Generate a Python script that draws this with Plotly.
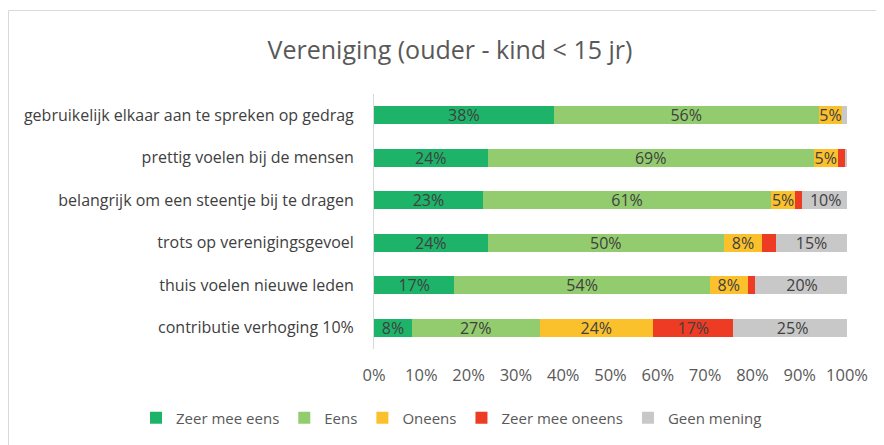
import plotly.graph_objects as go

categories = [
    "gebruikelijk elkaar aan te spreken op gedrag",
    "prettig voelen bij de mensen",
    "belangrijk om een steentje bij te dragen",
    "trots op verenigingsgevoel",
    "thuis voelen nieuwe leden",
    "contributie verhoging 10%",
]
series_names = ["Zeer mee eens", "Eens", "Oneens", "Zeer mee oneens", "Geen mening"]
zeer_mee_eens = [38, 24, 23, 24, 17, 8]
eens = [56, 69, 61, 50, 54, 27]
oneens = [5, 5, 5, 8, 8, 24]
zeer_mee_oneens = [0, 1.5, 1.5, 3, 1.5, 17]
geen_mening = [1, 1, 10, 15, 20, 25]
x_ticks = [0, 10, 20, 30, 40, 50, 60, 70, 80, 90, 100]
x_tick_labels = ["0%", "10%", "20%", "30%", "40%", "50%", "60%", "70%", "80%", "90%", "100%"]

colors = ["#1DB46A", "#92CC6E", "#FBC12D", "#EE3B24", "#C8C8C8"]
series = [zeer_mee_eens, eens, oneens, zeer_mee_oneens, geen_mening]

FONT = "Open Sans"
fig = go.Figure()
for name, vals, col in zip(series_names, series, colors):
    labels = [f"{round(v)}%" if v >= 5 else "" for v in vals]
    fig.add_trace(go.Bar(
        y=categories, x=vals, name=name, orientation="h",
        marker=dict(color=col, line=dict(width=0)),
        text=labels, textposition="inside", insidetextanchor="middle",
        textfont=dict(family=FONT, size=16, color="#404040"),
        hoverinfo="skip",
    ))

# page has an 8px body margin: figure occupies page x 8..884, y 8..445
OFF = 8
W, H = 884 - OFF, 445 - OFF
L, T = 374 - OFF, 94 - OFF
R, B = 884 - 847, 445 - 349
pw, ph = W - L - R, H - T - B

fig.update_layout(
    width=W, height=H, barmode="stack", bargap=0.58,
    margin=dict(l=L, r=R, t=T, b=B, autoexpand=False),
    paper_bgcolor="white", plot_bgcolor="white",
    font=dict(family=FONT, size=16, color="#595959"),
    uniformtext=dict(minsize=16, mode="show"),
    title=dict(text="Vereniging (ouder - kind < 15 jr)", x=(450 - OFF) / W, xanchor="center",
               y=1 - (50 - OFF) / H, yanchor="middle",
               font=dict(family=FONT, size=25, color="#595959")),
    legend=dict(orientation="h", xref="paper", yref="paper",
                x=(136 - OFF - L) / pw, xanchor="left",
                y=(H - B - (418 - OFF)) / ph, yanchor="middle",
                font=dict(family=FONT, size=15, color="#595959"),
                traceorder="normal"),
    showlegend=True,
)
fig.update_xaxes(range=[0, 100], tickvals=x_ticks, ticktext=x_tick_labels,
                 showgrid=False, zeroline=False, showline=False, ticks="",
                 tickfont=dict(family=FONT, size=16.5, color="#595959"), ticklabelstandoff=14)
fig.update_yaxes(autorange="reversed", showgrid=False, zeroline=False,
                 showline=True, linecolor="#D9D9D9", linewidth=1, ticks="",
                 ticklabelstandoff=16,
                 tickfont=dict(family=FONT, size=16, color="#404040"))

# outer frame
fig.add_shape(type="rect", xref="paper", yref="paper",
              x0=(0.5 - L) / pw, x1=(W + 5 - L) / pw,
              y0=(-(B + 10)) / ph, y1=(H - B - 2.5) / ph,
              line=dict(color="#D9D9D9", width=1), fillcolor="rgba(0,0,0,0)", layer="below")

fig.write_html("out.html")
